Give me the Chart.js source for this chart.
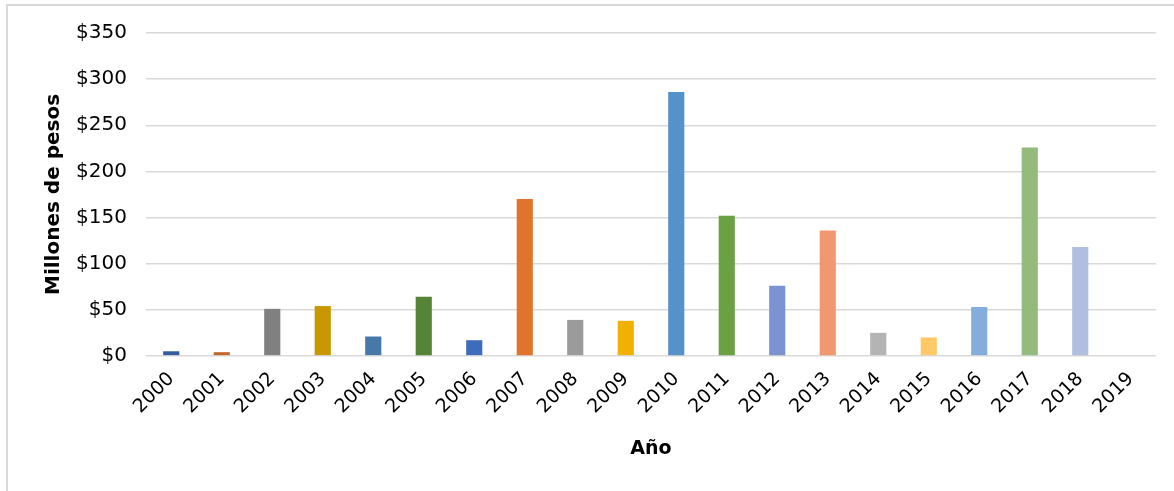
<!DOCTYPE html>
<html>
<head>
<meta charset="utf-8">
<script src="https://cdn.jsdelivr.net/npm/chart.js@4/dist/chart.umd.min.js"></script>
<style>
  html, body { margin: 0; padding: 0; background: #fff; overflow: hidden; }
  #marco { position: absolute; left: 6px; top: 4px; width: 1200px; height: 520px; border: 2px solid #d9d9d9; }
  #caja { position: absolute; left: 0; top: 0; width: 1174px; height: 491px; }
</style>
</head>
<body>
<div id="marco"></div>
<div id="caja"><canvas id="grafico"></canvas></div>
<script>
// Años (eje x)
const anios = ['2000', '2001', '2002', '2003', '2004', '2005', '2006', '2007', '2008', '2009',
               '2010', '2011', '2012', '2013', '2014', '2015', '2016', '2017', '2018', '2019'];
// Millones de pesos por año
const montos = [5, 4, 51, 54, 21, 64, 17, 170, 39, 38,
                286, 152, 76, 136, 25, 20, 53, 226, 118, 0];
// Un color por barra
const colores = ['#345ba0', '#c0652c', '#808080', '#c99700', '#4678a8', '#558437', '#3f6bbd', '#e0742d', '#9b9b9b', '#f0b100',
                 '#5592ca', '#6ba142', '#7b94d1', '#f19871', '#b4b4b4', '#ffc967', '#84addd', '#93bb7b', '#b2bedf', '#b2bedf'];
// Marcas del eje y
const ejeY = { min: 0, max: 350, paso: 50 };

const fuente = "'DejaVu Sans', sans-serif";
const ctx = document.getElementById('grafico').getContext('2d');

const grafico = new Chart(ctx, {
  type: 'bar',
  data: {
    labels: anios,
    datasets: [{
      label: 'Millones de pesos',
      data: montos,
      backgroundColor: colores,
      borderWidth: 0,
      categoryPercentage: 1,
      barPercentage: 0.32
    }]
  },
  options: {
    responsive: true,
    maintainAspectRatio: false,
    animation: false,
    layout: { padding: { left: 39, right: 18, top: 33, bottom: 31 } },
    plugins: {
      legend: { display: false },
      tooltip: { enabled: false }
    },
    scales: {
      x: {
        // las etiquetas giradas pueden invadir la zona del eje y, como en el original
        afterFit: function(escala) {
          escala.paddingLeft = 0;
          escala.paddingRight = 0;
        },
        grid: { display: false, drawTicks: false },
        border: { display: false },
        ticks: {
          autoSkip: false,
          maxRotation: 45,
          minRotation: 45,
          padding: 12,
          color: '#000',
          font: { family: fuente, size: 19 }
        },
        title: {
          display: true,
          text: 'Año',
          color: '#000',
          padding: { top: 7, bottom: 0 },
          font: { family: fuente, size: 19, weight: 'bold' }
        }
      },
      y: {
        min: ejeY.min,
        max: ejeY.max,
        afterFit: function(escala) {
          escala.width = 107;
        },
        grid: { color: '#d9d9d9', lineWidth: 1.5, drawTicks: false },
        border: { display: false },
        ticks: {
          stepSize: ejeY.paso,
          padding: 19,
          color: '#000',
          font: { family: fuente, size: 20 },
          callback: v => '$' + v
        },
        title: {
          display: true,
          text: 'Millones de pesos',
          color: '#000',
          padding: { top: 3, bottom: 8 },
          font: { family: fuente, size: 20, weight: 'bold' }
        }
      }
    }
  }
});
</script>
</body>
</html>
